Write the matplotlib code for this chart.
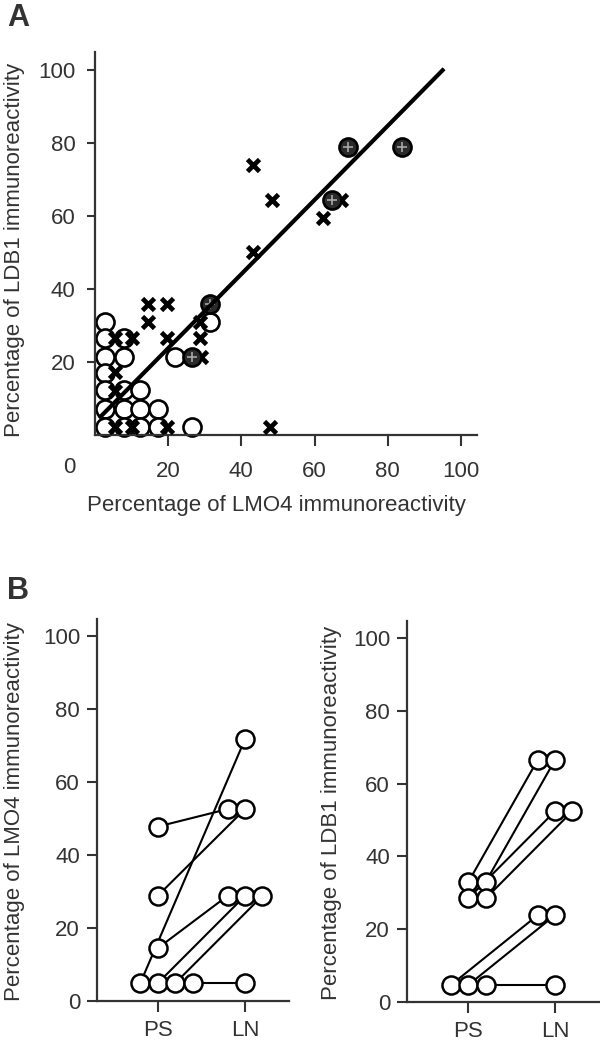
import numpy as np
import matplotlib
matplotlib.use("Agg")
import matplotlib.pyplot as plt

plt.rcParams['font.family'] = ['Liberation Sans', 'DejaVu Sans']
plt.rcParams['font.size'] = 16

cinza = '#333333'

# painel A - pontos abertos (LMO4 %, LDB1 %)
abertos_x = [2.7, 2.7, 2.7, 2.7, 2.7, 2.7, 2.7,
             7.8, 7.8, 7.8, 7.8, 7.8,
             12.4, 12.4, 12.4, 17.2, 17.2,
             21.9, 26.4, 31.4]
abertos_y = [31, 26.5, 21.5, 17, 12.3, 7.2, 2.3,
             26.5, 21.5, 12.3, 7.2, 2.3,
             12.3, 7.2, 2.3, 7.2, 2.3,
             21.5, 2.3, 31]

# painel A - cruzes
cruz_x = [5.5, 5.5, 5.5, 5.5, 10.0, 10.0, 14.6, 19.6, 14.6, 19.6,
          28.7, 28.7, 29.0, 19.6, 47.8, 43.3, 48.3, 43.3, 62.4, 67.1]
cruz_y = [26.5, 17.3, 12.0, 2.3, 26.5, 2.3, 36, 36, 31, 26.5,
          31, 26.5, 21.5, 2.3, 2.3, 74, 64.4, 50.2, 59.4, 64.4]

# painel A - pontos cheios
cheios_x = [31.4, 26.4, 64.7, 69.2, 83.8]
cheios_y = [36, 21.5, 64.4, 79, 79]

# reta de regressao
reta_x = [1.5, 95]
reta_y = [5, 100]

# painel B - LMO4 (PS -> LN)
lmo4_ps_x = [1.0, 1.0, 0.8, 1.0, 1.0, 1.2, 1.4]
lmo4_ps_y = [47.8, 28.8, 4.8, 14.4, 4.8, 4.8, 4.8]
lmo4_ln_x = [1.8, 2.0, 2.0, 1.8, 2.0, 2.2, 2.0]
lmo4_ln_y = [52.6, 52.6, 71.8, 28.8, 28.8, 28.8, 4.8]

# painel B - LDB1 (PS -> LN)
ldb1_ps_x = [1.0, 1.2, 1.0, 1.2, 0.8, 1.0, 1.2]
ldb1_ps_y = [32.9, 32.9, 28.4, 28.4, 4.6, 4.6, 4.6]
ldb1_ln_x = [1.8, 2.0, 2.0, 2.2, 1.8, 2.0, 2.0]
ldb1_ln_y = [66.5, 66.5, 52.4, 52.4, 23.8, 23.8, 4.6]

grupos = ['PS', 'LN']


def estilo_eixo(ax):
    for s in ['top', 'right']:
        ax.spines[s].set_visible(False)
    for s in ['left', 'bottom']:
        ax.spines[s].set_color(cinza)
        ax.spines[s].set_linewidth(1.6)
    ax.tick_params(colors=cinza, labelcolor=cinza, width=1.5, labelsize=16)


fig = plt.figure(figsize=(6, 10.43), dpi=100)

# ---------- painel A ----------
axA = fig.add_axes([95 / 600, 1 - 435 / 1043, 382 / 600, 383 / 1043])
estilo_eixo(axA)
axA.plot(abertos_x, abertos_y, 'o', ms=13, mfc='white', mec='black', mew=1.9,
         clip_on=False, zorder=2)
axA.plot(cruz_x, cruz_y, 'x', ms=8.5, mec='black', mew=3.4, clip_on=False, zorder=3)
axA.plot(cheios_x, cheios_y, 'o', ms=13, mfc='#2a2a2a', mec='black', mew=1.9,
         clip_on=False, zorder=4)
axA.plot(cheios_x, cheios_y, '+', ms=7, mec='#a8a8a8', mew=1.2, zorder=5)
axA.plot(reta_x, reta_y, '-', color='black', lw=3, zorder=6)
axA.set_xlim(0, 104.4)
axA.set_ylim(0, 105)
axA.set_xticks([20, 40, 60, 80, 100])
axA.set_yticks([20, 40, 60, 80, 100])
axA.tick_params(axis='x', length=8, pad=11)
axA.tick_params(axis='y', length=6, pad=8)
axA.text(-7.1, -9, '0', ha='center', va='center', color=cinza, fontsize=16,
         clip_on=False)
fig.text(15 / 600, 1 - 250 / 1043, 'Percentage of LDB1 immunoreactivity',
         rotation=90, ha='center', va='center', color=cinza, fontsize=16)
fig.text(276 / 600, 1 - 506 / 1043, 'Percentage of LMO4 immunoreactivity',
         ha='center', va='center', color=cinza, fontsize=16)
fig.text(7 / 600, 1 - 18 / 1043, 'A', ha='left', va='center', fontsize=22,
         fontweight='bold', color=cinza)

# ---------- painel B ----------
def painel_b(ax, ps_x, ps_y, ln_x, ln_y):
    estilo_eixo(ax)
    for i in range(len(ps_x)):
        ax.plot([ps_x[i], ln_x[i]], [ps_y[i], ln_y[i]], '-', color='black',
                lw=1.5, zorder=2)
    ax.plot(ps_x + ln_x, ps_y + ln_y, 'o', ms=13, mfc='white', mec='black',
            mew=1.8, ls='none', zorder=3, clip_on=False)
    ax.set_ylim(0, 104.8)
    ax.set_yticks([0, 20, 40, 60, 80, 100])
    ax.set_xticks([1, 2])
    ax.set_xticklabels(grupos)
    ax.tick_params(axis='y', length=7, pad=5)
    ax.tick_params(axis='x', length=8, pad=6)


axB1 = fig.add_axes([96.7 / 600, 1 - 1000.7 / 1043, 192.3 / 600, 381.7 / 1043])
painel_b(axB1, lmo4_ps_x, lmo4_ps_y, lmo4_ln_x, lmo4_ln_y)
axB1.set_xlim(0.301, 2.504)

axB2 = fig.add_axes([406.7 / 600, 1 - 1001.7 / 1043, 193.3 / 600, 381 / 1043])
painel_b(axB2, ldb1_ps_x, ldb1_ps_y, ldb1_ln_x, ldb1_ln_y)
axB2.set_xlim(0.289, 2.519)

fig.text(15 / 600, 1 - 812 / 1043, 'Percentage of LMO4 immunoreactivity',
         rotation=90, ha='center', va='center', color=cinza, fontsize=16)
fig.text(331 / 600, 1 - 813 / 1043, 'Percentage of LDB1 immunoreactivity',
         rotation=90, ha='center', va='center', color=cinza, fontsize=16)
fig.text(7 / 600, 1 - 591 / 1043, 'B', ha='left', va='center', fontsize=22,
         fontweight='bold', color=cinza)

fig.savefig('out.png', dpi=100)
